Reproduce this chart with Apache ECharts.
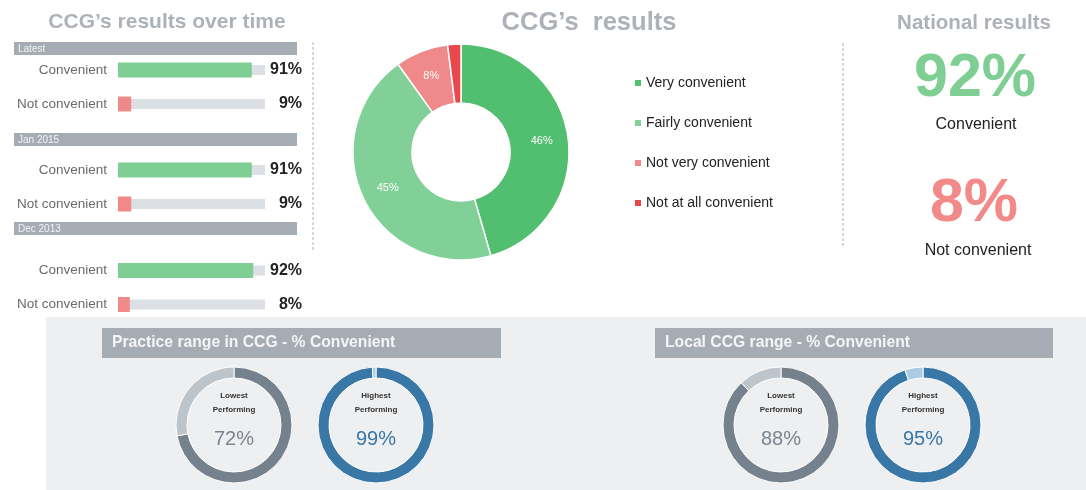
<!DOCTYPE html>
<html>
<head>
<meta charset="utf-8">
<script src="https://cdn.jsdelivr.net/npm/echarts@6/dist/echarts.min.js"></script>
<style>
html,body{margin:0;padding:0;background:#fff;}
#chart{width:1086px;height:490px;}
</style>
</head>
<body>
<div id="chart"></div>
<script>
// ---- data ----
const periods = ['Latest', 'Jan 2015', 'Dec 2013'];
const barCategories = ['Convenient', 'Not convenient'];
const convenientOverTime = [91, 91, 92];
const notConvenientOverTime = [9, 9, 8];

const pieCategories = ['Very convenient', 'Fairly convenient', 'Not very convenient', 'Not at all convenient'];
const pieValues = [46, 45, 8, 2];

const nationalConvenient = 92;
const nationalNotConvenient = 8;
const nationalLabels = ['Convenient', 'Not convenient'];

const rangeTitles = ['Practice range in CCG - % Convenient', 'Local CCG range - % Convenient'];
const ringNames = ['Lowest\nPerforming', 'Highest\nPerforming'];
const practiceRange = [72, 99];
const localRange = [88, 95];

const titles = ['CCG\u2019s results over time', 'CCG\u2019s  results', 'National results'];

// ---- styles ----
const FONT = '"Liberation Sans", Arial, sans-serif';
const GREEN = '#7fcf94', RED = '#f08a8a', TRACK = '#dcdfe3';
const pieColors = ['#52be6f', '#80d097', '#f08a8a', '#e8474b'];
const HEADER = '#a6acb4';

const chart = echarts.init(document.getElementById('chart'));

const gridTops = [53, 153, 253.5];
const headerYs = [42, 133, 222];
const grids = [], xAxes = [], yAxes = [], series = [];

periods.forEach((p, i) => {
  grids.push({ left: 118, width: 147, top: gridTops[i], height: 68 });
  xAxes.push({ gridIndex: i, type: 'value', min: 0, max: 100, show: false });
  const vals = [convenientOverTime[i], notConvenientOverTime[i]];
  yAxes.push({
    gridIndex: i, type: 'category', inverse: true, data: barCategories,
    axisLine: { show: false }, axisTick: { show: false },
    axisLabel: { margin: 11, fontSize: 13.5, color: '#6a6a6a', fontFamily: FONT }
  });
  yAxes.push({
    gridIndex: i, type: 'category', inverse: true, position: 'right',
    data: vals.map(v => v + '%'),
    axisLine: { show: false }, axisTick: { show: false },
    axisLabel: { margin: 37, align: 'right', fontSize: 16, fontWeight: 'bold', color: '#222', fontFamily: FONT }
  });
  series.push({
    type: 'bar', xAxisIndex: i, yAxisIndex: i * 2 + 1, barWidth: 10, silent: true,
    data: vals.map(() => 100), itemStyle: { color: TRACK }
  });
  series.push({
    type: 'bar', xAxisIndex: i, yAxisIndex: i * 2, barWidth: 15, silent: true,
    data: vals.map((v, k) => ({ value: v, itemStyle: { color: k === 0 ? GREEN : RED } }))
  });
});

// main donut
series.push({
  type: 'pie', center: [461, 152], radius: [49, 108], startAngle: 90, clockwise: true,
  silent: true,
  itemStyle: { borderColor: '#fff', borderWidth: 1.5 },
  label: { show: true, position: 'inside', color: '#fff', fontSize: 11, fontFamily: FONT,
    formatter: p => p.dataIndex === 3 ? '' : p.value + '%' },
  labelLine: { show: false },
  data: pieCategories.map((n, k) => ({ name: n, value: pieValues[k], itemStyle: { color: pieColors[k] } }))
});

// rings
const ringCenters = [[234, 425], [376, 425], [781, 425], [923, 425]];
const ringVals = [practiceRange[0], practiceRange[1], localRange[0], localRange[1]];
ringVals.forEach((v, k) => {
  const blue = k % 2 === 1;
  const main = blue ? '#3977a6' : '#75818c';
  const rest = blue ? '#a9cbe3' : '#bdc4ca';
  series.push({
    type: 'pie', center: ringCenters[k], radius: [47, 58], startAngle: 90, clockwise: true,
    silent: true,
    itemStyle: { borderColor: '#fff', borderWidth: 1 },
    labelLine: { show: false },
    data: [
      { value: v, name: 'v' + k, itemStyle: { color: main },
        label: { show: true, position: 'center',
          formatter: '{a|' + ringNames[k % 2].split('\n').join('}\n{a|') + '}\n{b|' + v + '%}',
          rich: {
            a: { fontSize: 8, fontWeight: 'bold', color: '#333', lineHeight: 14, fontFamily: FONT },
            b: { fontSize: 20, color: blue ? '#3977a6' : '#7a858f', lineHeight: 44, fontFamily: FONT }
          } } },
      { value: 100 - v, name: 'r' + k, itemStyle: { color: rest }, label: { show: false } }
    ]
  });
});

const txt = (x, y, text, font, fill, align) => ({
  type: 'text', x, y, silent: true, z: 10,
  style: { text, font, fill, align: align || 'center', verticalAlign: 'middle',
    textAlign: align || 'center', textVerticalAlign: 'middle' }
});

const graphic = [];
// bottom panel
graphic.push({ type: 'rect', shape: { x: 46, y: 317, width: 1040, height: 173 }, style: { fill: '#eeeff1' }, z: -10, silent: true });
// separators
graphic.push({ type: 'line', shape: { x1: 313, y1: 42, x2: 313, y2: 250 }, style: { stroke: '#b0b0b0', lineWidth: 1, lineDash: [3, 2] }, silent: true });
graphic.push({ type: 'line', shape: { x1: 843, y1: 43, x2: 843, y2: 248 }, style: { stroke: '#b0b0b0', lineWidth: 1, lineDash: [3, 2] }, silent: true });
// titles
graphic.push(txt(167, 22, titles[0], 'bold 21px ' + FONT, '#adb1b8'));
graphic.push(txt(589, 23, titles[1], 'bold 25.5px ' + FONT, '#adb1b8'));
graphic.push(txt(974, 23, titles[2], 'bold 20.5px ' + FONT, '#adb1b8'));
// period headers
periods.forEach((p, i) => {
  graphic.push({ type: 'rect', shape: { x: 14, y: headerYs[i], width: 283, height: 13 }, style: { fill: HEADER }, silent: true });
  graphic.push(txt(18, headerYs[i] + 7, p, '10px ' + FONT, '#f2f4f7', 'left'));
});
// national
graphic.push(txt(975, 79, nationalConvenient + '%', 'bold 61px ' + FONT, GREEN));
graphic.push(txt(976, 125, nationalLabels[0], '16px ' + FONT, '#222'));
graphic.push(txt(974, 204, nationalNotConvenient + '%', 'bold 61px ' + FONT, '#f28a8a'));
graphic.push(txt(978, 251, nationalLabels[1], '16px ' + FONT, '#222'));
// range headers
[[102, 399], [655, 398]].forEach((b, i) => {
  graphic.push({ type: 'rect', shape: { x: b[0], y: 328, width: b[1], height: 30 }, style: { fill: HEADER }, silent: true });
  graphic.push(txt(b[0] + 10, 343, rangeTitles[i], 'bold 15.7px ' + FONT, '#f4f5f7', 'left'));
});

chart.setOption({
  animation: false,
  backgroundColor: '#fff',
  grid: grids, xAxis: xAxes, yAxis: yAxes,
  legend: {
    data: pieCategories, orient: 'vertical', left: 633, top: 76, padding: 0,
    icon: 'rect', itemWidth: 8, itemHeight: 8, itemGap: 26, selectedMode: false,
    textStyle: { fontSize: 14, color: '#222', fontFamily: FONT, padding: [0, 0, 0, -1] }
  },
  series, graphic
});
</script>
</body>
</html>
